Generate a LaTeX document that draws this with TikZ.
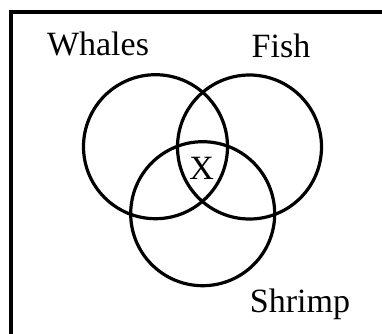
\documentclass[tikz,border=0pt]{standalone}
\usepackage{fontspec}
\setmainfont{Liberation Serif}
\begin{document}
\begin{tikzpicture}[x=1pt,y=-1pt,
  setcircle/.style={circle,draw=black,line width=3.2pt,minimum size=144pt,inner sep=0pt},
  lbl/.style={inner sep=0pt,font=\fontsize{34}{40}\selectfont}]
\useasboundingbox (0,0) rectangle (382,333);
\begin{scope}
\clip (0,0) rectangle (382,333);
\draw[line width=3.3pt] (11,345) -- (11,12) -- (395,12);
\end{scope}
\node[setcircle] (whales) at (155.5,146.7) {};
\node[setcircle] (fish) at (249.5,147) {};
\node[setcircle] (shrimp) at (202.7,213.7) {};
\node[lbl,anchor=base] (tw) at (98,55) {Whales};
\node[lbl,anchor=base] (tf) at (281,57) {Fish};
\node[lbl,anchor=base] (ts) at (300,312) {Shrimp};
\node[lbl,anchor=center] (tx) at (201.7,168.3) {X};
\end{tikzpicture}
\end{document}
